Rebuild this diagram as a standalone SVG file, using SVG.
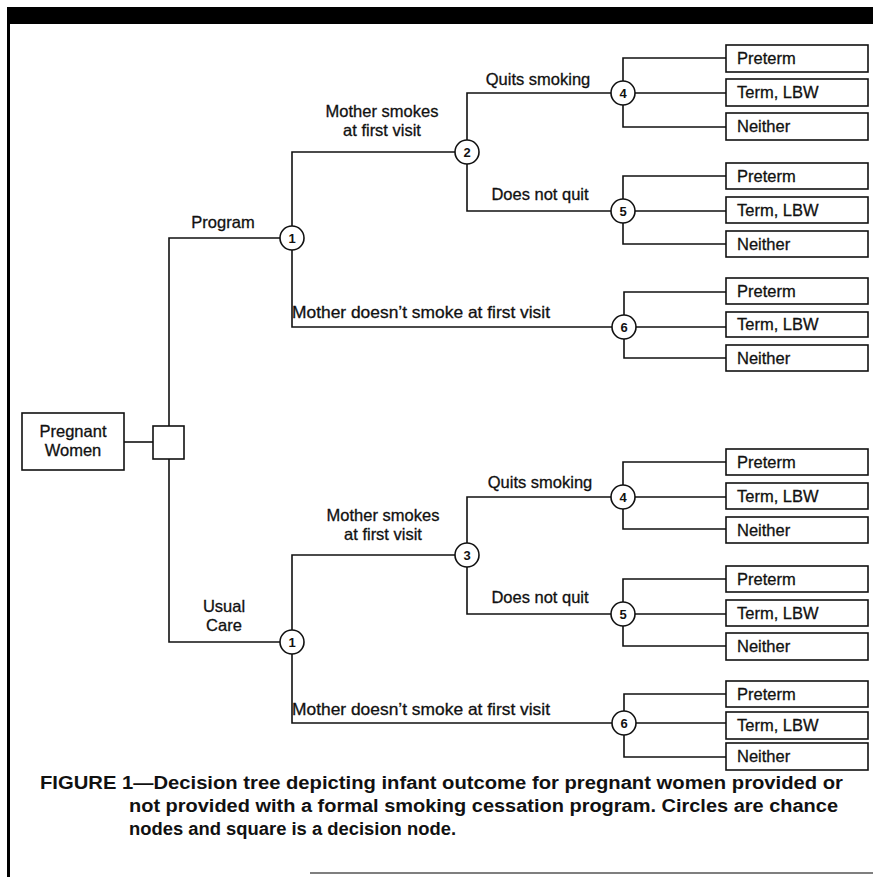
<svg xmlns="http://www.w3.org/2000/svg" width="873" height="877" viewBox="0 0 873 877">
<style>
.ln{fill:none;stroke:#111;stroke-width:1.6}
.bx{fill:#fff;stroke:#111;stroke-width:1.6}
.ci{fill:#fff;stroke:#111;stroke-width:1.6}
.t{font-family:"Liberation Sans",Arial,Helvetica,sans-serif;font-size:16.5px;fill:#111;stroke:#111;stroke-width:0.3}
.m{text-anchor:middle}
.n{font-family:"Liberation Sans",Arial,sans-serif;font-size:13px;font-weight:bold;fill:#111;text-anchor:middle}
.cap{font-family:"Liberation Sans",Arial,sans-serif;font-size:18px;font-weight:bold;fill:#111}
</style>
<rect width="873" height="877" fill="#fff"/>
<rect x="7" y="7" width="866" height="17" fill="#000"/>
<rect x="7" y="7" width="3" height="870" fill="#000"/>
<line x1="310" y1="873" x2="873" y2="873" stroke="#555" stroke-width="1.5"/>

<g id="connectors">
<path class="ln" d="M124,442H153"/>
<path class="ln" d="M169,426V238H280"/>
<path class="ln" d="M169,459V642H280"/>
<path class="ln" d="M292,226V152H455"/>
<path class="ln" d="M292,250V327H612"/>
<path class="ln" d="M467,140V93H611"/>
<path class="ln" d="M467,164V211H611"/>
<path class="ln" d="M623,81V58H726M635,93H726M623,105V127H726"/>
<path class="ln" d="M623,199V176H726M635,211H726M623,223V244H726"/>
<path class="ln" d="M624,315V292H726M636,327H726M624,339V358H726"/>
<path class="ln" d="M292,630V555H455"/>
<path class="ln" d="M292,654V723H612"/>
<path class="ln" d="M467,543V497H611"/>
<path class="ln" d="M467,567V614H611"/>
<path class="ln" d="M623,485V462H726M635,497H726M623,509V529H726"/>
<path class="ln" d="M623,602V579H726M635,614H726M623,626V646H726"/>
<path class="ln" d="M624,711V694H726M636,723H726M624,735V757H726"/>
</g>

<g id="labels">
<text class="t m" x="223" y="228">Program</text>
<text class="t m" x="382" y="117">Mother smokes</text>
<text class="t m" x="382" y="136">at first visit</text>
<text class="t m" x="538" y="85">Quits smoking</text>
<text class="t m" x="540" y="200">Does not quit</text>
<text class="t" x="292" y="318" textLength="258" lengthAdjust="spacingAndGlyphs">Mother doesn’t smoke at first visit</text>
<text class="t m" x="224" y="612">Usual</text>
<text class="t m" x="224" y="631">Care</text>
<text class="t m" x="383" y="521">Mother smokes</text>
<text class="t m" x="383" y="540">at first visit</text>
<text class="t m" x="540" y="488">Quits smoking</text>
<text class="t m" x="540" y="603">Does not quit</text>
<text class="t" x="292" y="715" textLength="258" lengthAdjust="spacingAndGlyphs">Mother doesn’t smoke at first visit</text>
</g>

<g id="pregnant-women"><rect class="bx" x="22" y="413" width="102" height="57"/><text class="t m" x="73" y="437">Pregnant</text><text class="t m" x="73" y="456">Women</text></g>
<g id="decision"><rect class="bx" x="153" y="426" width="31" height="33"/></g>

<g id="c1-program"><circle class="ci" cx="292" cy="238" r="12"/><text class="n" x="292" y="243">1</text></g>
<g id="c2"><circle class="ci" cx="467" cy="152" r="12"/><text class="n" x="467" y="157">2</text></g>
<g id="c4-top"><circle class="ci" cx="623" cy="93" r="12"/><text class="n" x="623" y="98">4</text></g>
<g id="c5-top"><circle class="ci" cx="623" cy="211" r="12"/><text class="n" x="623" y="216">5</text></g>
<g id="c6-top"><circle class="ci" cx="624" cy="327" r="12"/><text class="n" x="624" y="332">6</text></g>
<g id="c1-usual"><circle class="ci" cx="292" cy="642" r="12"/><text class="n" x="292" y="647">1</text></g>
<g id="c3"><circle class="ci" cx="467" cy="555" r="12"/><text class="n" x="467" y="560">3</text></g>
<g id="c4-bot"><circle class="ci" cx="623" cy="497" r="12"/><text class="n" x="623" y="502">4</text></g>
<g id="c5-bot"><circle class="ci" cx="623" cy="614" r="12"/><text class="n" x="623" y="619">5</text></g>
<g id="c6-bot"><circle class="ci" cx="624" cy="723" r="12"/><text class="n" x="624" y="728">6</text></g>

<g id="o4a-pre"><rect class="bx" x="726" y="45" width="142" height="27"/><text class="t" x="737" y="64">Preterm</text></g>
<g id="o4a-term"><rect class="bx" x="726" y="79" width="142" height="27"/><text class="t" x="737" y="98">Term, LBW</text></g>
<g id="o4a-nei"><rect class="bx" x="726" y="113" width="142" height="27"/><text class="t" x="737" y="132">Neither</text></g>
<g id="o5a-pre"><rect class="bx" x="726" y="163" width="142" height="26"/><text class="t" x="737" y="182">Preterm</text></g>
<g id="o5a-term"><rect class="bx" x="726" y="197" width="142" height="26"/><text class="t" x="737" y="216">Term, LBW</text></g>
<g id="o5a-nei"><rect class="bx" x="726" y="231" width="142" height="26"/><text class="t" x="737" y="250">Neither</text></g>
<g id="o6a-pre"><rect class="bx" x="726" y="278" width="142" height="26"/><text class="t" x="737" y="297">Preterm</text></g>
<g id="o6a-term"><rect class="bx" x="726" y="312" width="142" height="25"/><text class="t" x="737" y="330">Term, LBW</text></g>
<g id="o6a-nei"><rect class="bx" x="726" y="345" width="142" height="26"/><text class="t" x="737" y="364">Neither</text></g>
<g id="o4b-pre"><rect class="bx" x="726" y="449" width="142" height="26"/><text class="t" x="737" y="468">Preterm</text></g>
<g id="o4b-term"><rect class="bx" x="726" y="483" width="142" height="26"/><text class="t" x="737" y="502">Term, LBW</text></g>
<g id="o4b-nei"><rect class="bx" x="726" y="517" width="142" height="26"/><text class="t" x="737" y="536">Neither</text></g>
<g id="o5b-pre"><rect class="bx" x="726" y="566" width="142" height="26"/><text class="t" x="737" y="585">Preterm</text></g>
<g id="o5b-term"><rect class="bx" x="726" y="600" width="142" height="26"/><text class="t" x="737" y="619">Term, LBW</text></g>
<g id="o5b-nei"><rect class="bx" x="726" y="633" width="142" height="27"/><text class="t" x="737" y="652">Neither</text></g>
<g id="o6b-pre"><rect class="bx" x="726" y="681" width="142" height="26"/><text class="t" x="737" y="700">Preterm</text></g>
<g id="o6b-term"><rect class="bx" x="726" y="712" width="142" height="27"/><text class="t" x="737" y="731">Term, LBW</text></g>
<g id="o6b-nei"><rect class="bx" x="726" y="743" width="142" height="27"/><text class="t" x="737" y="762">Neither</text></g>

<g id="caption">
<text class="cap" x="40" y="789" textLength="803" lengthAdjust="spacingAndGlyphs">FIGURE 1—Decision tree depicting infant outcome for pregnant women provided or</text>
<text class="cap" x="129" y="812" textLength="709" lengthAdjust="spacingAndGlyphs">not provided with a formal smoking cessation program. Circles are chance</text>
<text class="cap" x="129" y="835" textLength="327" lengthAdjust="spacingAndGlyphs">nodes and square is a decision node.</text>
</g>
</svg>
